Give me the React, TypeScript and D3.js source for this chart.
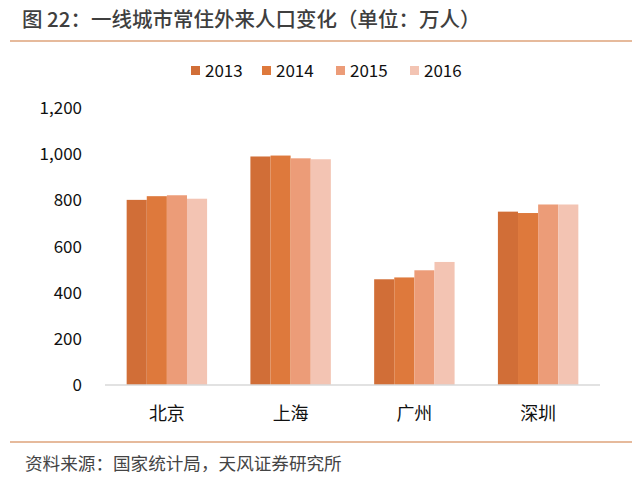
import React, { useEffect, useRef } from 'react';
import * as d3 from 'd3';

const cities = ['北京', '上海', '广州', '深圳'];
const years = ['2013', '2014', '2015', '2016'];
const v2013 = [802, 990, 458, 751];
const v2014 = [818, 994, 466, 745];
const v2015 = [822, 982, 497, 782];
const v2016 = [807, 978, 533, 782];
const yTicks = [0, 200, 400, 600, 800, 1000, 1200];
const colors = ['#D16E37', '#DE793C', '#EC9C78', '#F3C4B3'];

const App: React.FC = () => {
  const svgRef = useRef<SVGSVGElement>(null);

  useEffect(() => {
    if (!svgRef.current) return;
    const width = 640;
    const height = 488;
    const margin = { top: 108, right: 40, bottom: 103, left: 105 };
    const font = '"Noto Sans CJK SC", "Noto Sans", sans-serif';

    const svg = d3.select(svgRef.current);
    svg.selectAll('*').remove();

    svg.append('rect').attr('width', width).attr('height', height).attr('fill', '#fff');

    // title + rules
    svg.append('text')
      .attr('x', 22).attr('y', 27)
      .attr('font-family', font).attr('font-size', 20.5).attr('font-weight', 500)
      .attr('fill', '#3f3f3f')
      .text('图 22：一线城市常住外来人口变化（单位：万人）');
    svg.append('line')
      .attr('x1', 10).attr('x2', 634).attr('y1', 41).attr('y2', 41)
      .attr('stroke', '#E6BA9C').attr('stroke-width', 2);
    svg.append('line')
      .attr('x1', 10).attr('x2', 634).attr('y1', 442).attr('y2', 442)
      .attr('stroke', '#E6BA9C').attr('stroke-width', 2);
    svg.append('text')
      .attr('x', 25).attr('y', 469.5)
      .attr('font-family', font).attr('font-size', 17.6)
      .attr('fill', '#444')
      .text('资料来源：国家统计局，天风证券研究所');

    const series = [v2013, v2014, v2015, v2016];

    const x0 = d3.scaleBand<string>()
      .domain(cities)
      .range([margin.left, width - margin.right])
      .paddingInner(0.35)
      .paddingOuter(0.175);
    const x1 = d3.scaleBand<string>()
      .domain(years)
      .range([0, x0.bandwidth()]);
    const y = d3.scaleLinear()
      .domain([0, 1200])
      .range([height - margin.bottom, margin.top]);

    // y labels
    svg.append('g')
      .selectAll('text')
      .data(yTicks)
      .join('text')
      .attr('x', 82)
      .attr('y', d => y(d))
      .attr('dy', '0.36em')
      .attr('text-anchor', 'end')
      .attr('font-family', font).attr('font-size', 17)
      .attr('fill', '#111')
      .text(d => d3.format(',')(d));

    // bars
    const groups = svg.append('g')
      .selectAll('g')
      .data(cities)
      .join('g')
      .attr('transform', d => `translate(${x0(d)},0)`);
    groups.selectAll('rect')
      .data((_, i) => years.map((yr, j) => ({ yr, v: series[j][i], j })))
      .join('rect')
      .attr('x', d => x1(d.yr)!)
      .attr('width', x1.bandwidth())
      .attr('y', d => y(d.v))
      .attr('height', d => y(0) - y(d.v))
      .attr('fill', d => colors[d.j]);

    // baseline
    svg.append('line')
      .attr('x1', margin.left).attr('x2', width - margin.right)
      .attr('y1', y(0)).attr('y2', y(0))
      .attr('stroke', '#d9d9d9').attr('stroke-width', 1.5);

    // category labels
    svg.append('g')
      .selectAll('text')
      .data(cities)
      .join('text')
      .attr('x', d => x0(d)! + x0.bandwidth() / 2)
      .attr('y', 420)
      .attr('text-anchor', 'middle')
      .attr('font-family', font).attr('font-size', 18)
      .attr('fill', '#111')
      .text(d => d);

    // legend
    const legendX = [191, 262, 336, 410];
    const legend = svg.append('g')
      .selectAll('g')
      .data(years)
      .join('g')
      .attr('transform', (_, i) => `translate(${legendX[i]},71)`);
    legend.append('rect')
      .attr('x', 0).attr('y', -5)
      .attr('width', 9).attr('height', 9)
      .attr('fill', (_, i) => colors[i]);
    legend.append('text')
      .attr('x', 14).attr('y', 0)
      .attr('dy', '0.36em')
      .attr('font-family', font).attr('font-size', 17)
      .attr('fill', '#111')
      .text(d => d);
  }, []);

  return (
    <div style={{ margin: -8 }}>
      <svg ref={svgRef} width={640} height={488} viewBox="0 0 640 488" />
    </div>
  );
};

export default App;
